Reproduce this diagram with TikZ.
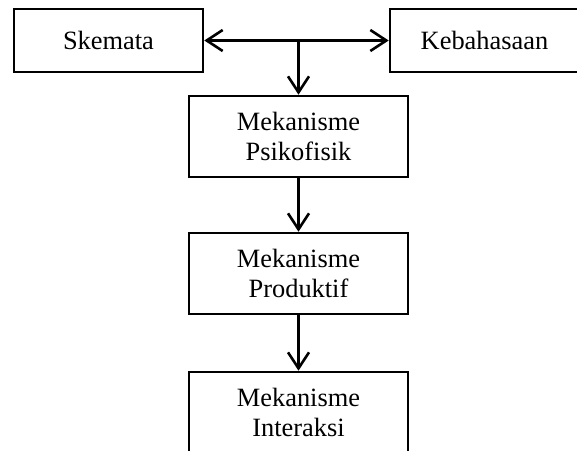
\documentclass[tikz,border=0pt]{standalone}
\usepackage{fontspec}
\setmainfont{Liberation Serif}
\usepackage{tikz}
\usetikzlibrary{arrows.meta}
\tikzstyle{source} = [rectangle, minimum width=189pt, minimum height=63pt, inner sep=0pt, text centered, draw=black, line width=2.6pt]
\tikzstyle{mechanism} = [rectangle, minimum width=219pt, minimum height=81pt, inner sep=0pt, text width=200pt, align=center, draw=black, line width=2.6pt]
\tikzstyle{arrow} = [line width=2.6pt,-{Straight Barb[length=16pt,width=21pt]}]
\tikzstyle{twoway} = [line width=2.6pt,{Straight Barb[length=16pt,width=21pt]}-{Straight Barb[length=16pt,width=21pt]}]

\begin{document}
\begin{tikzpicture}[x=1pt, y=1pt, font=\fontsize{26.4}{30}\selectfont]
	\useasboundingbox (0,0) rectangle (577,450);
	
	\node(sk) at (108.5, 409.5) [source] {Skemata};
	\node(kb) at (484.5, 409.5) [source] {Kebahasaan};
	\node(m1) at (298.5, 313.5) [mechanism] {Mekanisme\\Psikofisik};
	\node(m2) at (298.5, 176.5) [mechanism] {Mekanisme\\Produktif};
	\node(m3) at (298.5, 37.5) [mechanism] {Mekanisme\\Interaksi};
	\coordinate(j) at (m1.north |- sk.east);
	\draw [twoway] (sk.east) -- (kb.west);
	\draw [arrow] (j) -- (m1.north);
	\draw [arrow] (m1.south) -- (m2.north);
	\draw [arrow] (m2.south) -- (m3.north);
\end{tikzpicture}
\end{document}
